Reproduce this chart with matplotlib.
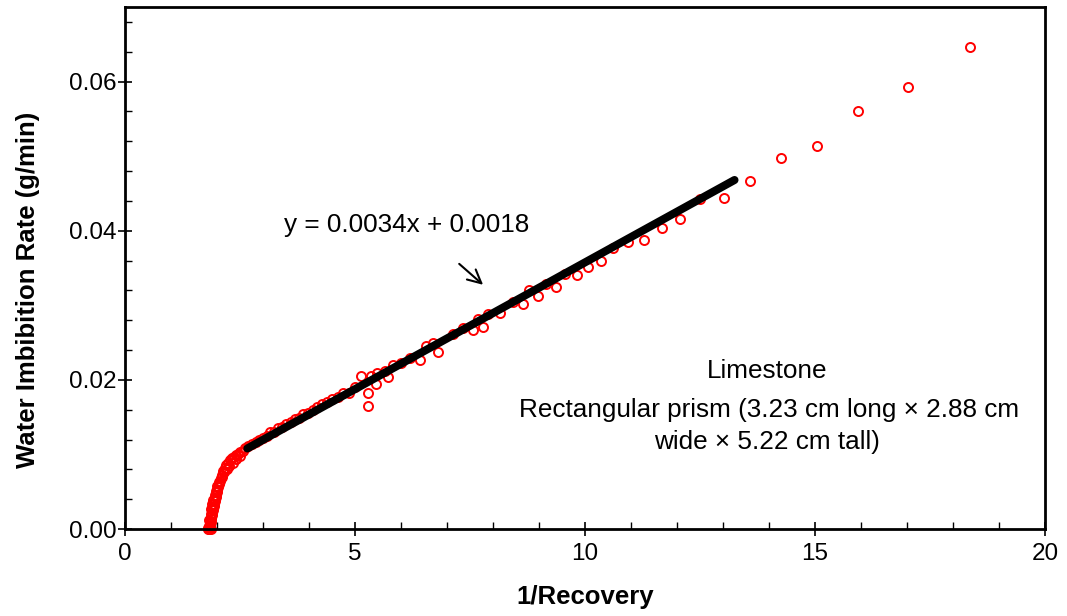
import matplotlib
matplotlib.use("Agg")
import matplotlib.pyplot as plt
from matplotlib.ticker import MultipleLocator, FormatStrFormatter

plt.rcParams['font.family'] = ['Liberation Sans', 'DejaVu Sans']

# Early (curved) part of the data: 1/Recovery and imbibition rate (g/min)
early_x = [1.80, 1.81, 1.82, 1.83, 1.84, 1.85, 1.86, 1.82, 1.84, 1.85,
           1.86, 1.87, 1.88, 1.89, 1.90, 1.91, 1.92, 1.93, 1.94, 1.95,
           1.96, 1.97, 1.98, 1.99, 2.00, 2.02, 2.04, 2.06, 2.08, 2.11,
           2.14, 2.17, 2.20, 2.24, 2.28, 2.32, 2.36, 2.41, 2.46, 2.51, 2.56,
           1.83, 1.86, 1.88, 1.90, 1.92, 1.95, 1.98, 2.01, 2.05, 2.10,
           2.15, 2.21, 2.27, 2.34, 2.42, 2.50]
early_y = [0.0000, 0.0001, 0.0000, 0.0002, 0.0001, 0.0003, 0.0000, 0.0004, 0.0006, 0.0008,
           0.0010, 0.0013, 0.0016, 0.0019, 0.0022, 0.0025, 0.0028, 0.0031, 0.0034, 0.0037,
           0.0040, 0.0043, 0.0046, 0.0049, 0.0052, 0.0056, 0.0060, 0.0064, 0.0068, 0.0073,
           0.0078, 0.0082, 0.0086, 0.0089, 0.0092, 0.0095, 0.0097, 0.0099, 0.0101, 0.0103, 0.0105,
           0.0012, 0.0020, 0.0027, 0.0033, 0.0039, 0.0045, 0.0051, 0.0057, 0.0063, 0.0070,
           0.0076, 0.0081, 0.0085, 0.0089, 0.0094, 0.0098]

# Linear part of the data
lin_x = [2.60, 2.68, 2.76, 2.84, 2.92, 3.00, 3.08, 3.16, 3.24, 3.33,
         3.42, 3.51, 3.60, 3.69, 3.78, 3.88, 3.98, 4.08, 4.18, 4.29,
         4.40, 4.51, 4.62, 4.74, 4.86, 5.00, 5.12, 5.29, 5.28, 5.34,
         5.47, 5.46, 5.65, 5.72, 5.83, 6.01, 6.20, 6.41, 6.54, 6.70,
         6.81, 7.14, 7.34, 7.57, 7.67, 7.79, 7.90, 8.15, 8.44, 8.65,
         8.79, 8.98, 9.15, 9.38, 9.57, 9.82, 10.07, 10.34, 10.60, 10.94,
         11.28, 11.67, 12.07, 12.50, 13.02]
lin_y = [0.0108, 0.0111, 0.0114, 0.0117, 0.0119, 0.0122, 0.0125, 0.0130, 0.0130, 0.0136,
         0.0137, 0.0141, 0.0143, 0.0147, 0.0149, 0.0154, 0.0156, 0.0159, 0.0163, 0.0167,
         0.0170, 0.0174, 0.0177, 0.0182, 0.0183, 0.0191, 0.0205, 0.0182, 0.0165, 0.0205,
         0.0209, 0.0195, 0.0212, 0.0204, 0.0220, 0.0223, 0.0229, 0.0226, 0.0246, 0.0249,
         0.0237, 0.0262, 0.0269, 0.0267, 0.0281, 0.0271, 0.0288, 0.0289, 0.0304, 0.0302,
         0.0321, 0.0313, 0.0329, 0.0325, 0.0342, 0.0340, 0.0351, 0.0359, 0.0377, 0.0385,
         0.0388, 0.0404, 0.0416, 0.0442, 0.0444]

# Late sparse points
late_x = [13.59, 14.26, 15.04, 15.93, 17.02, 18.37]
late_y = [0.0467, 0.0497, 0.0513, 0.0561, 0.0593, 0.0647]

# Linear fit line endpoints
fit_x = [2.66, 13.25]
fit_y = [0.0108, 0.0468]

fit_label = "y = 0.0034x + 0.0018"
sample_lines = ["Limestone",
                "Rectangular prism (3.23 cm long \u00d7 2.88 cm",
                "wide \u00d7 5.22 cm tall)"]

fig = plt.figure(figsize=(10.67, 6.16), dpi=100)
ax = fig.add_axes([125/1067, 1 - 529/616, (1045 - 125)/1067, (529 - 7)/616])

all_x = early_x + lin_x + late_x
all_y = early_y + lin_y + late_y
ax.plot(all_x, all_y, linestyle='none', marker='o', markersize=6.5,
        markerfacecolor='none', markeredgecolor='#ff0000', markeredgewidth=1.4,
        zorder=2, clip_on=False)
ax.plot(fit_x, fit_y, color='black', linewidth=5.8, solid_capstyle='round', zorder=3)

ax.set_xlim(0, 20)
ax.set_ylim(0, 0.07)
ax.xaxis.set_major_locator(MultipleLocator(5))
ax.xaxis.set_minor_locator(MultipleLocator(1))
ax.yaxis.set_minor_locator(MultipleLocator(0.004))
ax.set_yticks([0, 0.02, 0.04, 0.06])
ax.yaxis.set_major_formatter(FormatStrFormatter('%.2f'))

ax.tick_params(which='major', direction='inout', length=10, width=1.2,
               labelsize=17.5, colors='black')
ax.tick_params(axis='y', which='major', pad=1)
ax.tick_params(axis='x', which='major', pad=5)
ax.tick_params(which='minor', direction='in', length=5, width=1.0)
for s in ax.spines.values():
    s.set_linewidth(2.0)
    s.set_color('black')

ax.set_xlabel('1/Recovery', fontsize=18.5, fontweight='bold')
ax.set_ylabel('Water Imbibition Rate (g/min)', fontsize=18.5, fontweight='bold')
ax.xaxis.set_label_coords(0.5, -(597 - 529) / 522, transform=ax.transAxes)
ax.xaxis.label.set_va('center')
ax.yaxis.set_label_coords(-(125 - 28) / 920, (529 - 290) / 522, transform=ax.transAxes)
ax.yaxis.label.set_va('center')

ax.text(6.13, 0.0407, fit_label, fontsize=18.8, ha='center', va='center')
ax.annotate('', xy=(7.83, 0.0325), xytext=(7.22, 0.0358),
            arrowprops=dict(arrowstyle='->', color='black', lw=1.5, mutation_scale=24))

ax.text(13.96, 0.0212, sample_lines[0], fontsize=18.8, ha='center', va='center')
ax.text(14.0, 0.0160, sample_lines[1], fontsize=18.8, ha='center', va='center')
ax.text(13.96, 0.0117, sample_lines[2], fontsize=18.8, ha='center', va='center')

fig.savefig('out.png', dpi=100)
